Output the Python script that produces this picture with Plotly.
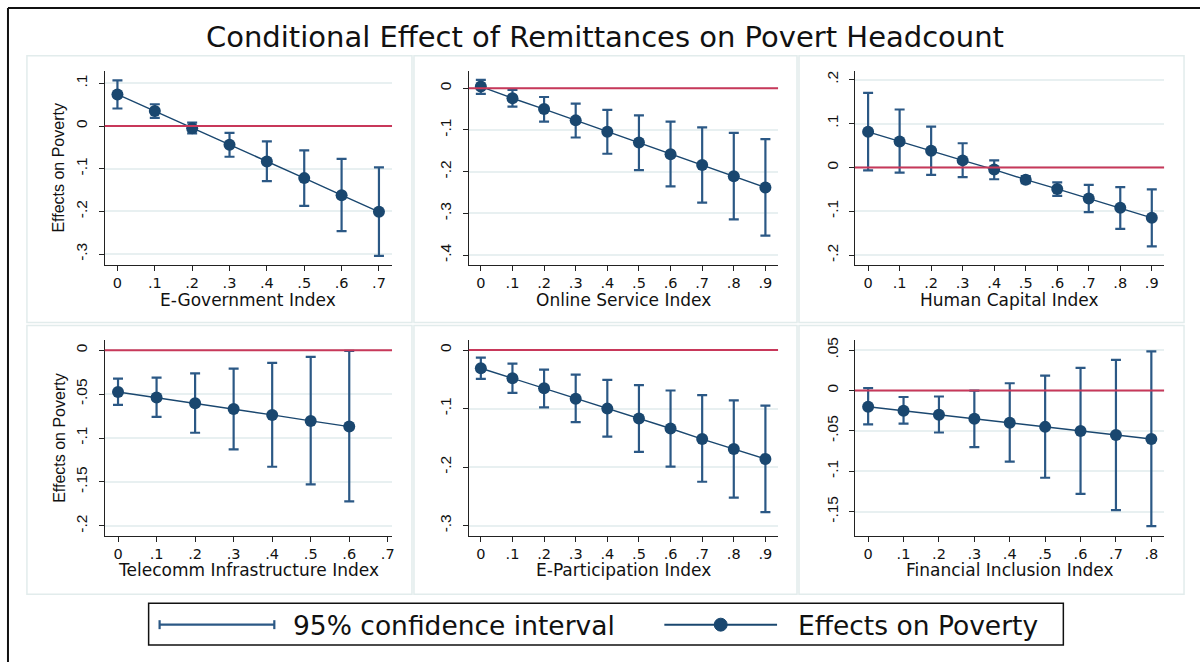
import plotly.graph_objects as go

# ---- data: conditional effect of remittances (point estimate + 95% CI) ----
egov_x = [0, .1, .2, .3, .4, .5, .6, .7]
egov_eff = [0.074, 0.035, -0.005, -0.044, -0.083, -0.122, -0.162, -0.201]
egov_lo = [0.041, 0.019, -0.017, -0.072, -0.129, -0.187, -0.246, -0.304]
egov_hi = [0.107, 0.051, 0.008, -0.016, -0.036, -0.057, -0.077, -0.097]

osi_x = [0, .1, .2, .3, .4, .5, .6, .7, .8, .9]
osi_eff = [0.004, -0.024, -0.050, -0.077, -0.104, -0.130, -0.158, -0.184, -0.211, -0.238]
osi_lo = [-0.0135, -0.044, -0.080, -0.118, -0.157, -0.196, -0.235, -0.274, -0.314, -0.353]
osi_hi = [0.020, -0.004, -0.021, -0.037, -0.052, -0.065, -0.080, -0.094, -0.107, -0.122]

hci_x = [0, .1, .2, .3, .4, .5, .6, .7, .8, .9]
hci_eff = [0.081, 0.059, 0.038, 0.016, -0.005, -0.028, -0.049, -0.071, -0.092, -0.115]
hci_lo = [-0.007, -0.012, -0.017, -0.022, -0.027, -0.036, -0.065, -0.102, -0.140, -0.180]
hci_hi = [0.170, 0.132, 0.093, 0.055, 0.016, -0.020, -0.034, -0.040, -0.045, -0.050]

tii_x = [0, .1, .2, .3, .4, .5, .6]
tii_eff = [-0.0476, -0.054, -0.0605, -0.067, -0.0737, -0.0805, -0.087]
tii_lo = [-0.0624, -0.076, -0.094, -0.113, -0.1327, -0.1527, -0.172]
tii_hi = [-0.0325, -0.0314, -0.0265, -0.021, -0.0144, -0.0076, -0.0008]

epi_x = [0, .1, .2, .3, .4, .5, .6, .7, .8, .9]
epi_eff = [-0.031, -0.048, -0.065, -0.083, -0.100, -0.117, -0.134, -0.152, -0.169, -0.186]
epi_lo = [-0.049, -0.073, -0.098, -0.123, -0.148, -0.174, -0.199, -0.225, -0.252, -0.277]
epi_hi = [-0.013, -0.023, -0.0335, -0.042, -0.051, -0.060, -0.069, -0.077, -0.086, -0.095]

fii_x = [0, .1, .2, .3, .4, .5, .6, .7, .8]
fii_eff = [-0.020, -0.025, -0.030, -0.035, -0.040, -0.045, -0.050, -0.055, -0.060]
fii_lo = [-0.042, -0.041, -0.052, -0.070, -0.088, -0.108, -0.128, -0.148, -0.168]
fii_hi = [0.003, -0.008, -0.0074, 0.0, 0.009, 0.0185, 0.028, 0.038, 0.0486]

# ---- tick values / labels (Stata style, no leading zero) ----
xt7_vals = [0, .1, .2, .3, .4, .5, .6, .7]
xt7_text = ["0", ".1", ".2", ".3", ".4", ".5", ".6", ".7"]
xt8_vals = [0, .1, .2, .3, .4, .5, .6, .7, .8]
xt8_text = ["0", ".1", ".2", ".3", ".4", ".5", ".6", ".7", ".8"]
xt9_vals = [0, .1, .2, .3, .4, .5, .6, .7, .8, .9]
xt9_text = ["0", ".1", ".2", ".3", ".4", ".5", ".6", ".7", ".8", ".9"]

egov_yt = [.1, 0, -.1, -.2, -.3]
egov_ytext = [".1", "0", "-.1", "-.2", "-.3"]
osi_yt = [0, -.1, -.2, -.3, -.4]
osi_ytext = ["0", "-.1", "-.2", "-.3", "-.4"]
hci_yt = [.2, .1, 0, -.1, -.2]
hci_ytext = [".2", ".1", "0", "-.1", "-.2"]
tii_yt = [0, -.05, -.1, -.15, -.2]
tii_ytext = ["0", "-.05", "-.1", "-.15", "-.2"]
epi_yt = [0, -.1, -.2, -.3]
epi_ytext = ["0", "-.1", "-.2", "-.3"]
fii_yt = [.05, 0, -.05, -.1, -.15]
fii_ytext = [".05", "0", "-.05", "-.1", "-.15"]

titles = ["E-Government Index", "Online Service Index", "Human Capital Index",
          "Telecomm Infrastructure Index", "E-Participation Index", "Financial Inclusion Index"]

W, H = 1203, 662
NAVY = "#1a476f"
CI_COL = "#2b5885"
RED = "#c8385a"
GRID = "#e8f0f1"
CELL = "#e2ecec"
HFONT = "DejaVu Sans"
VFONT = "Liberation Sans"


def px(x):
    return x / W


def py(y):
    return 1 - y / H


# panel layout in pixels: (x0, x1, y_top, y_bottom) of the plotting area
panels = [
    dict(x=egov_x, eff=egov_eff, lo=egov_lo, hi=egov_hi, xt=(xt7_vals, xt7_text),
         yt=(egov_yt, egov_ytext), box=(105, 393, 68, 263), xr=[-0.034, 0.735], yr=[-0.325, 0.1296]),
    dict(x=osi_x, eff=osi_eff, lo=osi_lo, hi=osi_hi, xt=(xt9_vals, xt9_text),
         yt=(osi_yt, osi_ytext), box=(470, 780, 68, 263), xr=[-0.038, 0.94], yr=[-0.423, 0.042]),
    dict(x=hci_x, eff=hci_eff, lo=hci_lo, hi=hci_hi, xt=(xt9_vals, xt9_text),
         yt=(hci_yt, hci_ytext), box=(857, 1167, 68, 263), xr=[-0.042, 0.939], yr=[-0.222, 0.2204]),
    dict(x=tii_x, eff=tii_eff, lo=tii_lo, hi=tii_hi, xt=(xt7_vals, xt7_text),
         yt=(tii_yt, tii_ytext), box=(105, 393, 339, 535), xr=[-0.0345, 0.711], yr=[-0.211, 0.011]),
    dict(x=epi_x, eff=epi_eff, lo=epi_lo, hi=epi_hi, xt=(xt9_vals, xt9_text),
         yt=(epi_yt, epi_ytext), box=(470, 780, 339, 535), xr=[-0.038, 0.94], yr=[-0.317, 0.0165]),
    dict(x=fii_x, eff=fii_eff, lo=fii_lo, hi=fii_hi, xt=(xt8_vals, xt8_text),
         yt=(fii_yt, fii_ytext), box=(857, 1167, 339, 535), xr=[-0.0375, 0.836], yr=[-0.1796, 0.062]),
]

# light frames around each graph cell
cells = [(27, 413, 53, 321), (415, 799, 53, 321), (801, 1187, 53, 321),
         (27, 413, 324, 594), (415, 799, 324, 594), (801, 1187, 324, 594)]

fig = go.Figure()
shapes = []
annotations = []
layout = {}

for c in cells:
    shapes.append(dict(type="rect", xref="paper", yref="paper",
                       x0=px(c[0]), x1=px(c[1]), y0=py(c[3]), y1=py(c[2]),
                       line=dict(color=CELL, width=1.5), fillcolor="white", layer="below"))

for i, p in enumerate(panels, start=1):
    sfx = "" if i == 1 else str(i)
    xa, ya = "x" + sfx, "y" + sfx
    ci_up = [h - e for h, e in zip(p["hi"], p["eff"])]
    ci_dn = [e - l for e, l in zip(p["eff"], p["lo"])]
    fig.add_trace(go.Scatter(
        x=p["x"], y=p["eff"], mode="lines+markers", xaxis=xa, yaxis=ya,
        line=dict(color=NAVY, width=1.4),
        marker=dict(color=NAVY, size=12),
        error_y=dict(type="data", symmetric=False, array=ci_up, arrayminus=ci_dn,
                     color=CI_COL, thickness=2.2, width=5),
        showlegend=False, hoverinfo="x+y"))

    x0, x1, yt, yb = p["box"]
    layout["xaxis" + sfx] = dict(
        domain=[px(x0), px(x1)], anchor=ya, range=p["xr"],
        tickvals=p["xt"][0], ticktext=p["xt"][1],
        showline=True, linecolor="#222", linewidth=1.3,
        ticks="outside", ticklen=5, tickwidth=1.3, tickcolor="#222",
        showgrid=False, zeroline=False,
        tickfont=dict(family=HFONT, size=14.5, color="#111"))
    layout["yaxis" + sfx] = dict(
        domain=[py(yb), py(yt)], anchor=xa, range=p["yr"],
        tickvals=p["yt"][0], ticktext=p["yt"][1], tickangle=-90,
        showline=True, linecolor="#222", linewidth=1.3,
        ticks="outside", ticklen=5, tickwidth=1.3, tickcolor="#222",
        ticklabelstandoff=5,
        showgrid=True, gridcolor=GRID, gridwidth=1.5, zeroline=False,
        tickfont=dict(family=VFONT, size=15.5, color="#111"))

    # reference line at zero
    shapes.append(dict(type="line", xref=xa + " domain", yref=ya, x0=0, x1=1, y0=0, y1=0,
                       line=dict(color=RED, width=2)))

    # x-axis title
    ty = 298 if i <= 3 else 570
    annotations.append(dict(text=titles[i - 1], xref="paper", yref="paper",
                            x=px((x0 + x1) / 2), y=py(ty), xanchor="center", yanchor="middle",
                            showarrow=False, font=dict(family=HFONT, size=17, color="#111")))
    # y-axis title on the left column
    if i in (1, 4):
        annotations.append(dict(text="Effects on Poverty", xref="paper", yref="paper",
                                x=px(59), y=py((yt + yb) / 2), xanchor="center", yanchor="middle",
                                textangle=-90, showarrow=False,
                                font=dict(family=VFONT, size=16, color="#111")))

# overall title
annotations.append(dict(text="Conditional Effect of Remittances on Povert Headcount",
                        xref="paper", yref="paper", x=px(607), y=py(34),
                        xanchor="center", yanchor="middle", showarrow=False,
                        font=dict(family=HFONT, size=29, color="#111")))

# outer frame (top and left edges)
shapes.append(dict(type="line", xref="paper", yref="paper", x0=px(8), x1=1, y0=py(5), y1=py(5),
                   line=dict(color="#111", width=2)))
shapes.append(dict(type="line", xref="paper", yref="paper", x0=px(8), x1=px(8), y0=py(5), y1=0,
                   line=dict(color="#111", width=2)))

# legend box with its two keys
shapes.append(dict(type="rect", xref="paper", yref="paper", x0=px(149), x1=px(1066),
                   y0=py(645), y1=py(603), line=dict(color="#111", width=1.5), fillcolor="white"))
# 95% CI key: capped horizontal bar
shapes.append(dict(type="line", xref="paper", yref="paper", x0=px(160), x1=px(275),
                   y0=py(624.5), y1=py(624.5), line=dict(color=CI_COL, width=2.2)))
for cx in (160, 275):
    shapes.append(dict(type="line", xref="paper", yref="paper", x0=px(cx), x1=px(cx),
                       y0=py(620), y1=py(629), line=dict(color=CI_COL, width=2.2)))
# effect key: line with marker
shapes.append(dict(type="line", xref="paper", yref="paper", x0=px(666), x1=px(779),
                   y0=py(624.5), y1=py(624.5), line=dict(color=NAVY, width=2)))
shapes.append(dict(type="circle", xref="paper", yref="paper", x0=px(716), x1=px(729),
                   y0=py(631), y1=py(618), line=dict(color=NAVY, width=1), fillcolor=NAVY))
annotations.append(dict(text="95% confidence interval", xref="paper", yref="paper",
                        x=px(292), y=py(625), xanchor="left", yanchor="middle", showarrow=False,
                        font=dict(family=HFONT, size=26.5, color="#111")))
annotations.append(dict(text="Effects on Poverty", xref="paper", yref="paper",
                        x=px(798), y=py(625), xanchor="left", yanchor="middle", showarrow=False,
                        font=dict(family=HFONT, size=26.5, color="#111")))

fig.update_layout(
    width=W, height=H, autosize=False,
    margin=dict(l=0, r=0, t=0, b=0, pad=0),
    paper_bgcolor="white", plot_bgcolor="rgba(0,0,0,0)",
    showlegend=False, shapes=shapes, annotations=annotations, **layout)

fig.write_html("out.html")
